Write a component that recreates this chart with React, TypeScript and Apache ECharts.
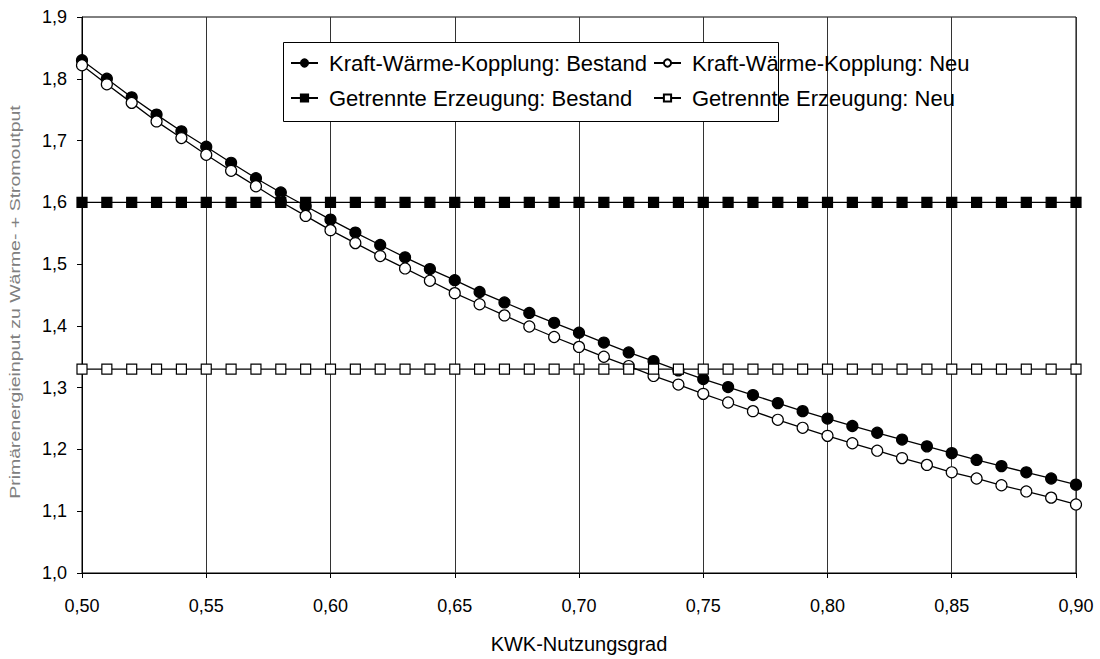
import React, { useEffect, useRef } from "react";
import * as echarts from "echarts";

const xValues = [
  0.5, 0.51, 0.52, 0.53, 0.54, 0.55, 0.56, 0.57, 0.58, 0.59, 0.6, 0.61, 0.62, 0.63,
  0.64, 0.65, 0.66, 0.67, 0.68, 0.69, 0.7, 0.71, 0.72, 0.73, 0.74, 0.75, 0.76, 0.77,
  0.78, 0.79, 0.8, 0.81, 0.82, 0.83, 0.84, 0.85, 0.86, 0.87, 0.88, 0.89, 0.9,
];

const kwkBestand = [
  1.83, 1.8, 1.77, 1.742, 1.715, 1.69, 1.664, 1.639, 1.616, 1.594, 1.572, 1.551, 1.531,
  1.511, 1.492, 1.474, 1.455, 1.438, 1.421, 1.405, 1.389, 1.373, 1.357, 1.343, 1.328,
  1.314, 1.301, 1.288, 1.275, 1.262, 1.25, 1.238, 1.227, 1.216, 1.205, 1.194, 1.183,
  1.173, 1.163, 1.153, 1.143,
];

const kwkNeu = [
  1.822, 1.791, 1.761, 1.731, 1.704, 1.677, 1.651, 1.626, 1.601, 1.578, 1.555, 1.534,
  1.513, 1.493, 1.473, 1.453, 1.435, 1.417, 1.399, 1.382, 1.366, 1.35, 1.335, 1.319,
  1.305, 1.29, 1.276, 1.262, 1.248, 1.235, 1.222, 1.21, 1.198, 1.186, 1.175, 1.163,
  1.153, 1.142, 1.132, 1.122, 1.111,
];

const getrenntBestand = [
  1.6, 1.6, 1.6, 1.6, 1.6, 1.6, 1.6, 1.6, 1.6, 1.6, 1.6, 1.6, 1.6, 1.6, 1.6, 1.6, 1.6,
  1.6, 1.6, 1.6, 1.6, 1.6, 1.6, 1.6, 1.6, 1.6, 1.6, 1.6, 1.6, 1.6, 1.6, 1.6, 1.6, 1.6,
  1.6, 1.6, 1.6, 1.6, 1.6, 1.6, 1.6,
];

const getrenntNeu = [
  1.33, 1.33, 1.33, 1.33, 1.33, 1.33, 1.33, 1.33, 1.33, 1.33, 1.33, 1.33, 1.33, 1.33,
  1.33, 1.33, 1.33, 1.33, 1.33, 1.33, 1.33, 1.33, 1.33, 1.33, 1.33, 1.33, 1.33, 1.33,
  1.33, 1.33, 1.33, 1.33, 1.33, 1.33, 1.33, 1.33, 1.33, 1.33, 1.33, 1.33, 1.33,
];

const seriesNames = [
  "Kraft-Wärme-Kopplung: Bestand",
  "Kraft-Wärme-Kopplung: Neu",
  "Getrennte Erzeugung: Bestand",
  "Getrennte Erzeugung: Neu",
];

const xAxisTitle = "KWK-Nutzungsgrad";
const yAxisTitle = "Primärenergieinput zu Wärme- + Stromoutput";

const FONT = "'Liberation Sans', Arial, sans-serif";

export default function App() {
  const ref = useRef<HTMLDivElement>(null);

  useEffect(() => {
    if (!ref.current) return;
    const chart = echarts.init(ref.current, undefined, { renderer: "svg" });

    const pairs = (ys: number[]) => xValues.map((x, i) => [x, ys[i]]);

    const mk = (name: string, ys: number[], symbol: string, filled: boolean) => ({
      name,
      type: "line",
      data: pairs(ys),
      symbol,
      symbolSize: symbol === "circle" ? 11 : 10,
      showAllSymbol: true,
      z: 2,
      lineStyle: { color: "#000", width: 1.3 },
      itemStyle: {
        color: filled ? "#000" : "#fff",
        borderColor: "#000",
        borderWidth: 1.2,
      },
      emphasis: { disabled: true },
    });

    const legendCommon = {
      orient: "horizontal",
      padding: 0,
      itemWidth: 27,
      itemHeight: 9,
      selectedMode: false,
      z: 30,
      textStyle: {
        fontFamily: FONT,
        fontSize: 22,
        color: "#000",
        padding: [0, 0, 0, 6],
      },
    };

    chart.setOption({
      animation: false,
      backgroundColor: "#fff",
      textStyle: { fontFamily: FONT },
      grid: {
        left: 82,
        top: 17,
        right: 24,
        bottom: 79,
        show: true,
        borderColor: "#000",
        borderWidth: 1,
        backgroundColor: "transparent",
      },
      legend: [
        { ...legendCommon, data: [seriesNames[0]], left: 290, top: 52 },
        { ...legendCommon, data: [seriesNames[1]], left: 653, top: 52 },
        { ...legendCommon, data: [seriesNames[2]], left: 290, top: 87 },
        { ...legendCommon, data: [seriesNames[3]], left: 653, top: 87 },
      ],
      graphic: [
        {
          type: "rect",
          left: 283,
          top: 42,
          z: 20,
          shape: { width: 495, height: 79 },
          style: { fill: "#fff", stroke: "#000", lineWidth: 1 },
        },
        {
          type: "text",
          x: 15,
          y: 302,
          rotation: Math.PI / 2,
          scaleX: 1.3,
          scaleY: 1,
          z: 10,
          style: {
            text: yAxisTitle,
            fontFamily: FONT,
            fontSize: 15,
            fill: "#808080",
            align: "center",
            verticalAlign: "middle",
          },
        },
      ],
      xAxis: {
        type: "value",
        min: 0.5,
        max: 0.9,
        interval: 0.05,
        name: xAxisTitle,
        nameLocation: "middle",
        nameGap: 61,
        nameTextStyle: { fontFamily: FONT, fontSize: 20, color: "#000" },
        axisLine: { show: true, lineStyle: { color: "#000", width: 1 } },
        axisTick: { show: true, inside: false, length: 5, lineStyle: { color: "#000" } },
        axisLabel: {
          fontFamily: FONT,
          fontSize: 18,
          color: "#000",
          margin: 24,
          formatter: (v: number) => v.toFixed(2).replace(".", ","),
        },
        splitLine: { show: true, lineStyle: { color: "#333", width: 1 } },
      },
      yAxis: {
        type: "value",
        min: 1.0,
        max: 1.9,
        interval: 0.1,
        axisLine: { show: true, lineStyle: { color: "#000", width: 1 } },
        axisTick: { show: true, inside: false, length: 5, lineStyle: { color: "#000" } },
        axisLabel: {
          fontFamily: FONT,
          fontSize: 18,
          color: "#000",
          margin: 15,
          formatter: (v: number) => v.toFixed(1).replace(".", ","),
        },
        splitLine: { show: false },
      },
      series: [
        mk(seriesNames[0], kwkBestand, "circle", true),
        mk(seriesNames[1], kwkNeu, "circle", false),
        mk(seriesNames[2], getrenntBestand, "rect", true),
        mk(seriesNames[3], getrenntNeu, "rect", false),
      ],
    });

    return () => chart.dispose();
  }, []);

  return (
    <div
      ref={ref}
      style={{ position: "fixed", left: 0, top: 0, width: 1100, height: 659 }}
    />
  );
}
